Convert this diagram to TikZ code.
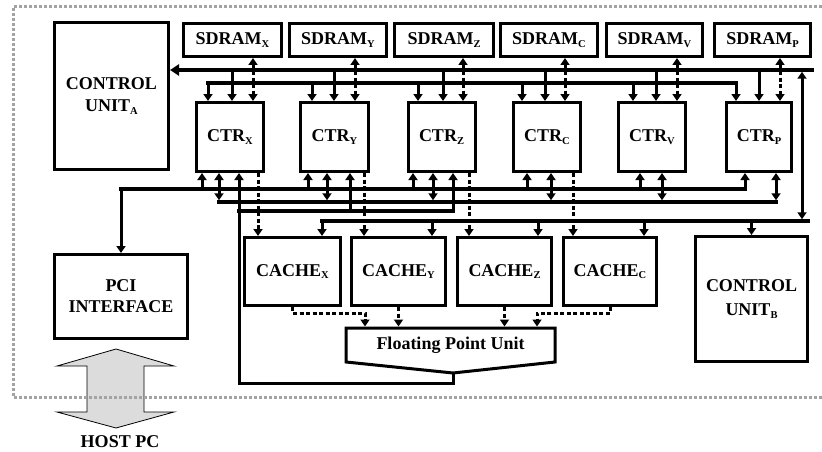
\documentclass[tikz,border=0pt]{standalone}
\usepackage{fontspec}
\setmainfont{Liberation Serif}
\usetikzlibrary{arrows.meta}

\definecolor{boardgray}{HTML}{A3A3A3}
\definecolor{hostgray}{HTML}{DCDCDC}

% lowered small index letter
\newcommand{\lowsub}[1]{\raisebox{-2.5pt}{\fontsize{10.5}{10.5}\selectfont #1}}

\begin{document}
\begin{tikzpicture}[x=1pt,y=-1pt,
  lbl/.style={font=\fontsize{18}{22}\selectfont\bfseries},
  box/.style={draw, line width=3pt, inner sep=0pt, outer sep=1.5pt, align=center, lbl},
  wire/.style={line width=3pt, line join=miter},
  bus/.style={line width=3.5pt, line cap=rect},
  dots/.style={line width=3pt, dash pattern=on 4pt off 2.5pt, line join=miter},
  arr/.style={-{Triangle[length=7pt,width=9pt]}},
  darr/.style={{Triangle[length=7pt,width=9pt]}-{Triangle[length=7pt,width=9pt]}},
]
\useasboundingbox (0,0) rectangle (822,452);

% ---------- host link ----------
\draw[line width=0.8pt, fill=hostgray] (116,349) -- (174,366) -- (144,366) -- (144,412)
  -- (174,412) -- (116,428) -- (57,412) -- (87,412) -- (87,366) -- (57,366) -- cycle;
\node[lbl] (host) at (120,442) {HOST PC};

% ---------- board outline ----------
\draw[line width=3pt, boardgray, dash pattern=on 3pt off 2pt] (822,7) -- (13,7) -- (13,397) -- (822,397);

% ---------- blocks ----------
\node[box, minimum width=114pt, minimum height=147pt] (cua) at (111.5,96) {CONTROL\\UNIT\lowsub{A}};
\node[box, minimum width=112pt, minimum height=125pt] (cub) at (751.5,299) {CONTROL\\[2pt]UNIT\lowsub{B}};
\node[box, minimum width=133pt, minimum height=84pt] (pci) at (121,296.5) {PCI\\[-1pt]INTERFACE};

\node[box, minimum width=98pt, minimum height=33pt] (sdx) at (232.5,40) {SDRAM\lowsub{X}};
\node[box, minimum width=97pt, minimum height=33pt] (sdy) at (338,40) {SDRAM\lowsub{Y}};
\node[box, minimum width=99pt, minimum height=33pt] (sdz) at (444,40) {SDRAM\lowsub{Z}};
\node[box, minimum width=97pt, minimum height=33pt] (sdc) at (549,40) {SDRAM\lowsub{C}};
\node[box, minimum width=96pt, minimum height=33pt] (sdv) at (654.5,40) {SDRAM\lowsub{V}};
\node[box, minimum width=96pt, minimum height=33pt] (sdp) at (762.5,40) {SDRAM\lowsub{P}};

\node[box, minimum width=67pt, minimum height=69pt] (ctrx) at (230,137) {CTR\lowsub{X}};
\node[box, minimum width=68pt, minimum height=69pt] (ctry) at (334.5,137) {CTR\lowsub{Y}};
\node[box, minimum width=67pt, minimum height=69pt] (ctrz) at (441.5,137) {CTR\lowsub{Z}};
\node[box, minimum width=67pt, minimum height=69pt] (ctrc) at (547,137) {CTR\lowsub{C}};
\node[box, minimum width=67pt, minimum height=69pt] (ctrv) at (652,137) {CTR\lowsub{V}};
\node[box, minimum width=65pt, minimum height=69pt] (ctrp) at (759,137) {CTR\lowsub{P}};

\node[box, minimum width=96pt, minimum height=68pt] (cachex) at (292.5,271.5) {CACHE\lowsub{X}};
\node[box, minimum width=94pt, minimum height=68pt] (cachey) at (398.5,271.5) {CACHE\lowsub{Y}};
\node[box, minimum width=94pt, minimum height=68pt] (cachez) at (504.5,271.5) {CACHE\lowsub{Z}};
\node[box, minimum width=93pt, minimum height=68pt] (cachec) at (610,271.5) {CACHE\lowsub{C}};

% floating point unit: flat top, pointed bottom
\node[lbl, inner sep=0pt, outer sep=0pt, minimum width=209pt, minimum height=34pt] (fpu) at (450.5,345) {Floating Point Unit};
\draw[line width=3pt, line join=miter] (fpu.north west) -- (fpu.north east) -- (fpu.south east)
  -- ([xshift=2.5pt,yshift=-11pt]fpu.south) coordinate (fputip) -- (fpu.south west) -- cycle;

% ---------- bus levels ----------
\coordinate (busone) at (0,70);
\coordinate (bustwo) at (0,83);
\coordinate (busa) at (0,189);
\coordinate (busb) at (0,202);
\coordinate (busc) at (0,211);
\coordinate (busd) at (0,221);
\coordinate (ret) at (0,383);
\coordinate (jog) at (0,313);
\coordinate (riser) at (802,0);
\coordinate (busoneend) at (812,0);
\coordinate (busdend) at (808,0);

% upper buses
\draw[bus, -{Triangle[length=9pt,width=11pt]}] (busoneend |- busone) -- (cua.east |- busone);
\draw[bus] ([xshift=-22pt]ctrx.north |- bustwo) -- ([xshift=-23pt]ctrp.north |- bustwo);
\draw[wire, darr, shorten <=1.75pt, shorten >=1.75pt] (riser |- busone) -- (riser |- busd);

\foreach \c/\s/\l/\m/\d in {ctrx/sdx/-22/2/23, ctry/sdy/-22.5/-0.5/20.5, ctrz/sdz/-23.5/1.5/21.5,
                             ctrc/sdc/-25/-2/18, ctrv/sdv/-19/4/25, ctrp/sdp/-23/0/21}{
  \draw[wire, arr] ([xshift=\l pt]\c.north |- bustwo) -- ([xshift=\l pt]\c.north);
  \draw[wire, arr] ([xshift=\m pt]\c.north |- busone) -- ([xshift=\m pt]\c.north);
  \draw[dots, darr] ([xshift=\d pt]\c.north |- \s.south) -- ([xshift=\d pt]\c.north);
}

% lower buses
\draw[bus] (pci.north |- busa) -- ([xshift=-14pt]ctrp.south |- busa);
\draw[wire, arr] (pci.north |- busa) -- (pci.north);
\foreach \c/\a in {ctrx/-28, ctry/-26.5, ctrz/-28.5, ctrc/-20, ctrv/-12, ctrp/-14}{
  \draw[wire, arr] ([xshift=\a pt]\c.south |- busa) -- ([xshift=\a pt]\c.south);
}

\draw[bus] ([xshift=-11pt]ctrx.south |- busb) -- ([xshift=17pt]ctrp.south |- busb);
\foreach \c/\b in {ctrx/-11, ctry/-7.5, ctrz/-8.5, ctrc/4, ctrv/10, ctrp/17}{
  \draw[wire, darr, shorten >=1.75pt] ([xshift=\b pt]\c.south) -- ([xshift=\b pt]\c.south |- busb);
}

\draw[bus] ([xshift=9pt]ctrx.south |- busc) -- ([xshift=11.5pt]ctrz.south |- busc);
\foreach \c/\g in {ctry/15.5, ctrz/11.5}{
  \draw[wire, arr] ([xshift=\g pt]\c.south |- busc) -- ([xshift=\g pt]\c.south);
}
% result path from the floating point unit back to the controllers
\draw[wire, arr] (fputip) |- ([xshift=9pt]ctrx.south |- ret) -- ([xshift=9pt]ctrx.south);

% controller to cache
\foreach \c/\k/\e in {ctrx/cachex/28, ctry/cachey/29.5, ctrz/cachez/27.5, ctrc/cachec/26}{
  \draw[dots, arr] ([xshift=\e pt]\c.south) -- ([xshift=\e pt]\c.south |- \k.north);
}

\draw[bus] ([xshift=29.5pt]cachex.north |- busd) -- (busdend |- busd);
\foreach \k/\f in {cachex/29.5, cachey/33.5, cachez/33.5, cachec/34, cub/0}{
  \draw[wire, arr] ([xshift=\f pt]\k.north |- busd) -- ([xshift=\f pt]\k.north);
}

% caches into the floating point unit
\draw[dots, arr, shorten >=1.5pt] (cachex.south) |- ([xshift=-85.5pt]fpu.north |- jog) -- ([xshift=-85.5pt]fpu.north);
\draw[dots, arr, shorten >=1.5pt] (cachey.south) -- (cachey.south |- fpu.north);
\draw[dots, arr, shorten >=1.5pt] (cachez.south) -- (cachez.south |- fpu.north);
\draw[dots, arr, shorten >=1.5pt] (cachec.south) |- ([xshift=86.5pt]fpu.north |- jog) -- ([xshift=86.5pt]fpu.north);

\end{tikzpicture}
\end{document}
